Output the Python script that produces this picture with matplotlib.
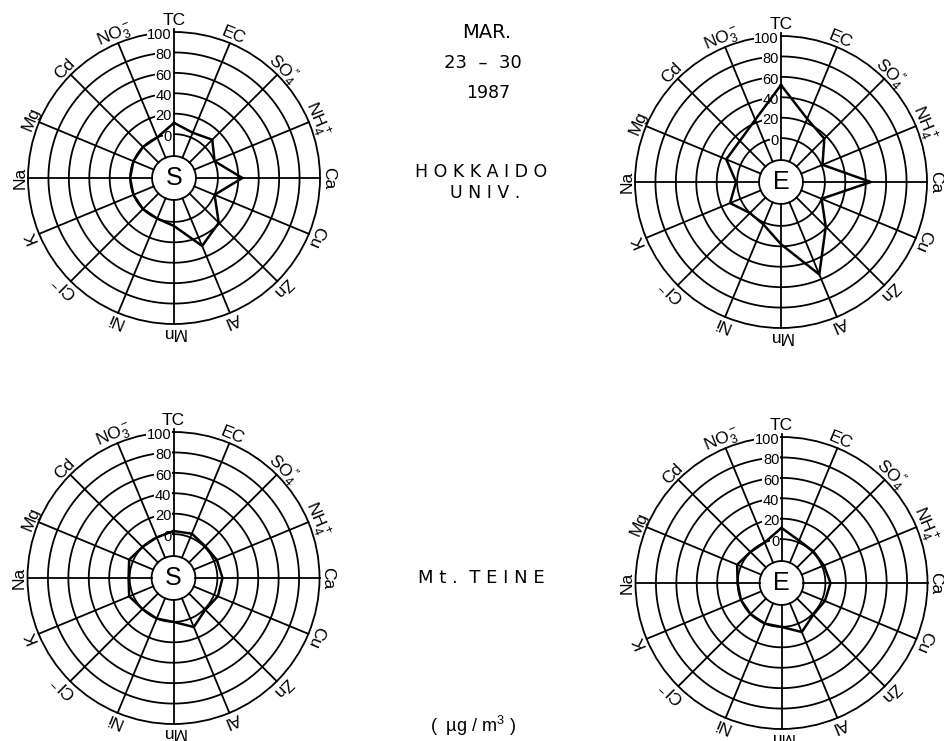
import numpy as np
import matplotlib
matplotlib.use('Agg')
import matplotlib.pyplot as plt

plt.rcParams['font.family'] = ['Liberation Sans', 'DejaVu Sans']
plt.rcParams['mathtext.fontset'] = 'custom'
plt.rcParams['mathtext.rm'] = 'Liberation Sans'
plt.rcParams['mathtext.default'] = 'regular'

# species, clockwise from the top
species = ['TC', 'EC', r'SO$_4^{\prime\prime}$', r'NH$_4^+$', 'Ca', 'Cu', 'Zn', 'Al',
           'Mn', 'Ni', r'Cl$^-$', 'K', 'Na', 'Mg', 'Cd', r'NO$_3^-$']
ring_values = [0, 20, 40, 60, 80, 100]

# (ug/m3 scale of the rose)
hokkaido_s = [11, 5, 10, 0, 24, 0, 19, 29, 4, 0, 0, 0, 0, 0, 0, 0]
hokkaido_e = [52, 24, 17, 1, 45, 0, 19, 55, 18, 2, 0, 11, 1, 15, 14, 23]
teine_s = [3, 4, 1, 3, 5, 4, 1, 9, 0, 0, 0, 4, 1, 4, 0, 0]
teine_e = [11, 2, 1, 2, 5, 3, 1, 9, 0, 0, 0, 0, 0, 4, 0, 0]

W, H = 944, 741
R_PX = 146       # radius of the 100 ring in pixels
R_MIN = -43      # value at the centre of the rose
HUB = -21.5      # small circle holding S / E

fig = plt.figure(figsize=(W / 100, H / 100), dpi=100)


def draw_rose(cx, cy, values, center):
    rect = [(cx - R_PX) / W, 1 - (cy + R_PX) / H, 2 * R_PX / W, 2 * R_PX / H]
    ax = fig.add_axes(rect, projection='polar')
    ax.set_theta_zero_location('N')
    ax.set_theta_direction(-1)
    ax.set_ylim(R_MIN, 100)
    ax.set_xticks([])
    ax.set_yticks([])
    ax.grid(False)
    ax.spines['polar'].set_linewidth(1.3)

    full = np.linspace(0, 2 * np.pi, 400)
    for r in ring_values[:-1] + [HUB]:
        ax.plot(full, np.full_like(full, r), color='k', lw=1.3, zorder=2)

    angles = np.arange(len(species)) * 2 * np.pi / len(species)
    for i, th in enumerate(angles):
        top = 103 if i == 0 else 100
        ax.plot([th, th], [HUB, top], color='k', lw=1.3, zorder=2, clip_on=False)

    vals = np.array(values, dtype=float)
    ax.plot(np.append(angles, angles[0]), np.append(vals, vals[0]),
            color='k', lw=1.8, zorder=5)

    for r in ring_values:
        ax.annotate(str(r), xy=(0, r), xytext=(-1.5, -2), textcoords='offset points',
                    ha='right', va='center', fontsize=10.5, zorder=4,
                    bbox=dict(boxstyle='square,pad=0.05', fc='white', ec='none'))

    for i, (th, lab) in enumerate(zip(angles, species)):
        rr = 111 if i == 0 else 108
        ax.text(th, rr, lab, rotation=-np.degrees(th), rotation_mode='anchor',
                ha='center', va='center', fontsize=12.5, clip_on=False)

    ax.text(0, R_MIN, center, ha='center', va='center', fontsize=18, zorder=6)


draw_rose(174, 178, hokkaido_s, 'S')
draw_rose(781, 182, hokkaido_e, 'E')
draw_rose(173.5, 578, teine_s, 'S')
draw_rose(781.5, 583, teine_e, 'E')


def ftext(x, y, s, **kw):
    fig.text(x / W, 1 - y / H, s, ha='center', va='center', **kw)


ftext(487, 32, 'MAR.', fontsize=14, family='DejaVu Sans')
ftext(483, 63, '23  –  30', fontsize=13, family='DejaVu Sans')
ftext(488, 93, '1987', fontsize=12.5, family='DejaVu Sans')
ftext(481, 172, 'H O K K A I D O', fontsize=12.5, family='DejaVu Sans')
ftext(485, 193, 'U N I V .', fontsize=12.5, family='DejaVu Sans')
ftext(481, 578, 'M t .  T E I N E', fontsize=13, family='DejaVu Sans')
ftext(473, 726, '(  µg / m$^3$ )', fontsize=13)

fig.savefig('out.png', dpi=100)
